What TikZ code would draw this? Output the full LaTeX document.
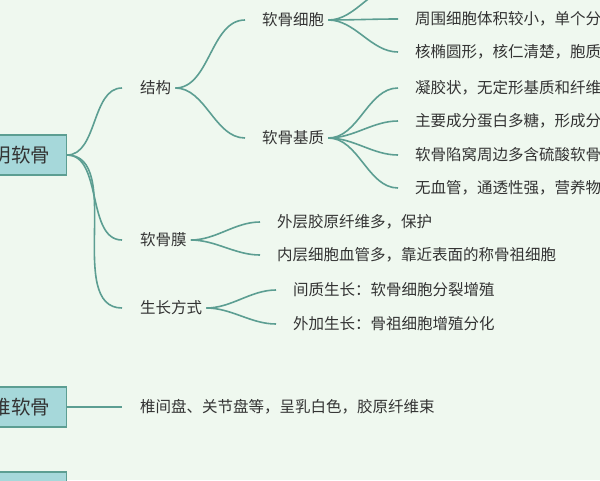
\documentclass[tikz,border=0pt]{standalone}
\usepackage{fontspec}
\setmainfont{Noto Sans CJK SC}
\definecolor{bgc}{HTML}{EFF8EF}
\definecolor{linec}{HTML}{5C9E92}
\definecolor{boxc}{HTML}{A6D8DA}
\definecolor{txtc}{HTML}{333333}
\tikzset{
  rootbox/.style={draw=linec, line width=1.5pt, fill=boxc, anchor=east,
    minimum height=40pt, inner xsep=16pt, font=\fontsize{19.5}{22}\selectfont, text=txtc},
  topic/.style={anchor=west, inner sep=0pt, font=\fontsize{15.5}{18}\selectfont, text=txtc},
  leaf/.style={anchor=west, inner sep=0pt, font=\fontsize{15.5}{18}\selectfont, text=txtc},
  branch/.style={linec, line width=1.6pt, out=0, in=180, looseness=0.9},
}
\begin{document}
\begin{tikzpicture}[x=1pt,y=-1pt]
        \fill[bgc] (0,0) rectangle (600,480);
        \clip (0,0) rectangle (600,480);
        \useasboundingbox (0,0) rectangle (600,480);

        % roots
        \node[rootbox] (tm) at (67,155) {透明软骨};
        \node[rootbox] (xw) at (67,407) {纤维软骨};
        \node[rootbox] (tx) at (67,492) {弹性软骨};

        % level one
        \node[topic] (jg) at (140,88) {结构};
        \node[topic] (rgm) at (140,240) {软骨膜};
        \node[topic] (szfs) at (140,308) {生长方式};
        \node[leaf] (xwl) at (140,407) {椎间盘、关节盘等，呈乳白色，胶原纤维束};

        % level two
        \node[topic] (rgxb) at (262,20) {软骨细胞};
        \node[topic] (rgjz) at (262,138) {软骨基质};

        % leaves
        \node[leaf] (xb0) at (415,-14) {软骨细胞};
        \node[leaf] (xb1) at (415,19) {周围细胞体积较小，单个分};
        \node[leaf] (xb2) at (415,52) {核椭圆形，核仁清楚，胞质};
        \node[leaf] (jz1) at (415,88) {凝胶状，无定形基质和纤维};
        \node[leaf] (jz2) at (415,121) {主要成分蛋白多糖，形成分};
        \node[leaf] (jz3) at (415,155) {软骨陷窝周边多含硫酸软骨};
        \node[leaf] (jz4) at (415,188) {无血管，通透性强，营养物};
        \node[leaf] (m1) at (277,222) {外层胶原纤维多，保护};
        \node[leaf] (m2) at (277,255) {内层细胞血管多，靠近表面的称骨祖细胞};
        \node[leaf] (s1) at (293,290) {间质生长：软骨细胞分裂增殖};
        \node[leaf] (s2) at (293,324) {外加生长：骨祖细胞增殖分化};

        % connectors
        \foreach \t in {jg,rgm,szfs}
          \draw[branch] (tm.east) to ([xshift=-18pt]\t.west);
        \draw[linec, line width=1.6pt] (xw.east) -- ([xshift=-18pt]xwl.west);
        \foreach \t in {rgxb,rgjz}
          \draw[branch] ([xshift=4pt]jg.east) to ([xshift=-17pt]\t.west);
        \foreach \t in {xb0,xb1,xb2}
          \draw[branch] ([xshift=4pt]rgxb.east) to ([xshift=-17pt]\t.west);
        \foreach \t in {jz1,jz2,jz3,jz4}
          \draw[branch] ([xshift=4pt]rgjz.east) to ([xshift=-17pt]\t.west);
        \foreach \t in {m1,m2}
          \draw[branch] ([xshift=4pt]rgm.east) to ([xshift=-17pt]\t.west);
        \foreach \t in {s1,s2}
          \draw[branch] ([xshift=4pt]szfs.east) to ([xshift=-17pt]\t.west);
\end{tikzpicture}
\end{document}
